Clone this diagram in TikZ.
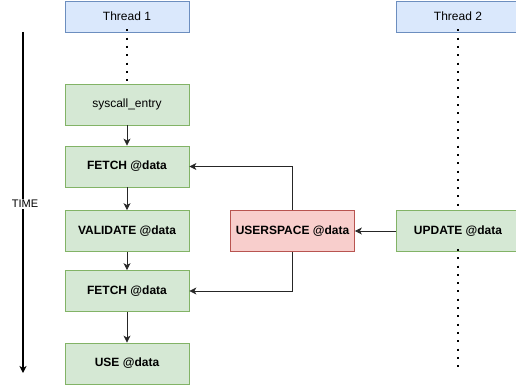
\documentclass[tikz,border=0pt]{standalone}
\usepackage{fontspec}
\setmainfont{Liberation Sans}
\usetikzlibrary{arrows.meta}

\definecolor{blueFill}{HTML}{DAE8FC}
\definecolor{blueLine}{HTML}{6C8EBF}
\definecolor{greenFill}{HTML}{D5E8D4}
\definecolor{greenLine}{HTML}{82B366}
\definecolor{redFill}{HTML}{F8CECC}
\definecolor{redLine}{HTML}{B85450}

\tikzset{
  box/.style={draw, line width=0.8pt, minimum width=124pt, minimum height=41pt,
    inner sep=0pt, font=\fontsize{12}{14}\selectfont},
  threadbox/.style={box, fill=blueFill, draw=blueLine, minimum height=31pt},
  stepbox/.style={box, fill=greenFill, draw=greenLine},
  userbox/.style={box, fill=redFill, draw=redLine},
  flow/.style={-{Stealth[length=7pt,width=7pt,inset=2pt]}, line width=0.8pt, draw=black!85},
  lifeline/.style={line width=2pt, dash pattern=on 2pt off 6.3pt, draw=black}
}

\begin{document}
\begin{tikzpicture}[x=1pt,y=-1pt]
\useasboundingbox (0,0) rectangle (516,385);
% thread 1
\node[threadbox] (t1) at (127,16.5) {Thread 1};
\node[stepbox] (sys) at (127,104.5) {syscall\_entry};
\node[stepbox, font=\fontsize{12}{14}\selectfont\bfseries] (fetchA) at (127,166.5) {FETCH @data};
\node[stepbox, font=\fontsize{12}{14}\selectfont\bfseries] (valid) at (127,231) {VALIDATE @data};
\node[stepbox, font=\fontsize{12}{14}\selectfont\bfseries] (fetchB) at (127,291) {FETCH @data};
\node[stepbox, font=\fontsize{12}{14}\selectfont\bfseries] (use) at (127,363.5) {USE @data};
% thread 2
\node[threadbox] (t2) at (458,16.5) {Thread 2};
\node[stepbox, font=\fontsize{12}{14}\selectfont\bfseries] (upd) at (458,231) {UPDATE @data};
\coordinate (t2end) at (458,370);
% shared memory
\node[userbox, font=\fontsize{12}{14}\selectfont\bfseries] (usr) at (292.5,231) {USERSPACE @data};
% time axis
\coordinate (timeTop) at (23,32);
\coordinate (timeEnd) at (23,373);
\draw[flow, line width=1.2pt, draw=black] (timeTop) -- (timeEnd);
\node[fill=white, inner sep=1pt, font=\fontsize{11}{13}\selectfont] (timeLabel) at (25,204) {TIME};

\draw[lifeline] ([yshift=3pt]t1.south) -- (sys.north);
\draw[lifeline] ([yshift=3pt]t2.south) -- (upd.north);
\draw[lifeline] ([yshift=3pt]upd.south) -- (t2end);

\draw[flow] (sys) -- (fetchA);
\draw[flow] (fetchA) -- (valid);
\draw[flow] (valid) -- (fetchB);
\draw[flow] (fetchB) -- (use);
\draw[flow] (upd) -- (usr);
\draw[flow] (usr.north) |- (fetchA.east);
\draw[flow] (usr.south) |- (fetchB.east);
\end{tikzpicture}
\end{document}
